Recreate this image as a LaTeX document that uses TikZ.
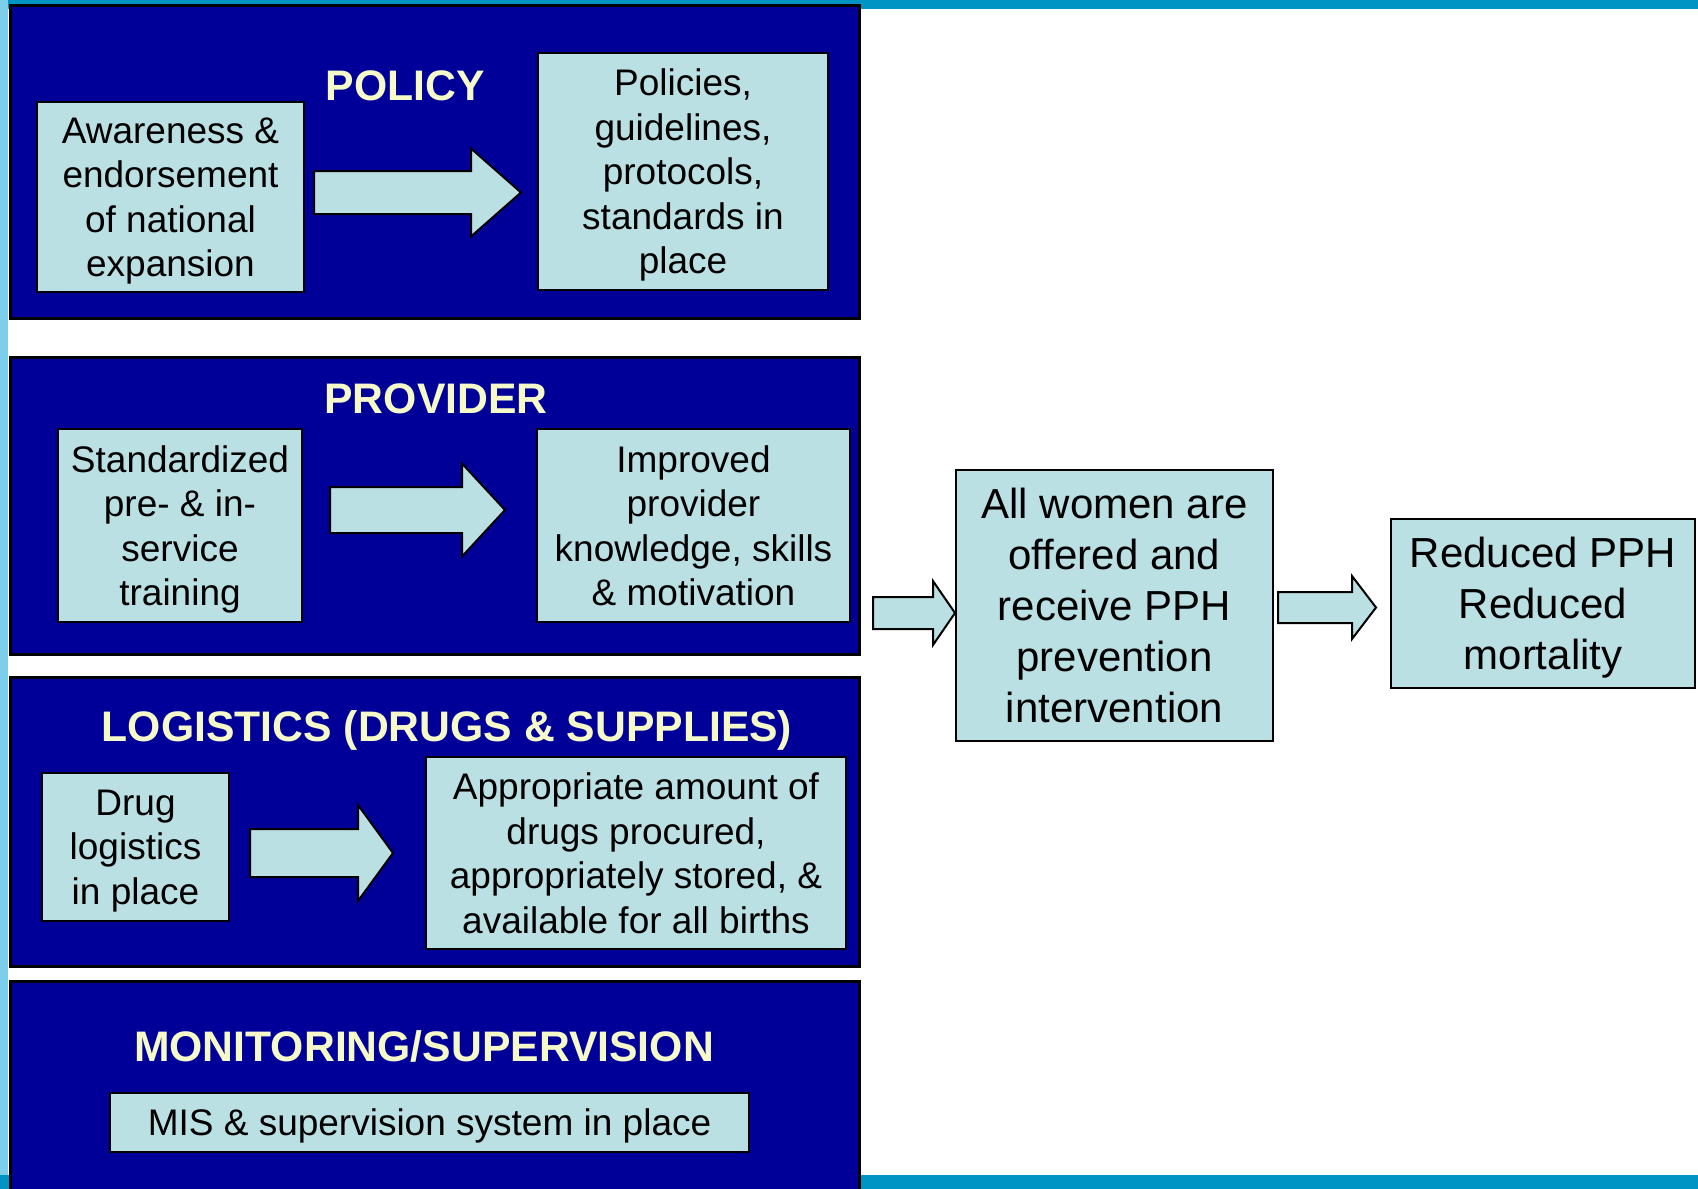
\documentclass[tikz,border=0pt]{standalone}
\usepackage{fontspec}
\setmainfont{Liberation Sans}
\definecolor{navy}{RGB}{0,0,153}
\definecolor{pale}{RGB}{187,224,227}
\definecolor{barteal}{RGB}{0,148,196}
\definecolor{stripblue}{RGB}{125,206,235}
\definecolor{ttlyellow}{RGB}{245,250,200}
\newcommand\bodyfont{\fontsize{37}{44.5}\selectfont}
\newcommand\bigbodyfont{\fontsize{42}{51}\selectfont}
\newcommand\ttlfont{\fontsize{42.7}{50}\selectfont\bfseries}
\newcommand\lastln[1]{\smash{#1}}
\newcommand\blockarrow[6]{%
  \draw[barrow] (#1,#4-#5) -- (#2,#4-#5) -- (#2,#4-#6) -- (#3,#4) -- (#2,#4+#6) -- (#2,#4+#5) -- (#1,#4+#5) -- cycle;}
\begin{document}
\begin{tikzpicture}[x=1pt,y=-1pt,
  section/.style={draw=black, line width=2.5pt, fill=navy, anchor=north west, inner sep=0pt},
  ibox/.style={draw=black, line width=2pt, fill=pale, align=center, inner sep=0pt, font=\bodyfont},
  bbox/.style={ibox, font=\bigbodyfont},
  ttl/.style={text=ttlyellow, font=\ttlfont, anchor=base, inner sep=0pt},
  barrow/.style={draw=black, line width=2pt, fill=pale, line join=miter}]
\useasboundingbox (0,0) rectangle (1698,1189);
% background decoration
\fill[barteal] (0,0) rectangle (1698,9);
\fill[stripblue] (0,0) rectangle (8,1189);
\fill[barteal] (0,1175) rectangle (1698,1189);
% sections
\node[section, minimum width=849, minimum height=313] (secpolicy) at (9,4) {};
\node[section, minimum width=849, minimum height=297] (secprovider) at (9,356) {};
\node[section, minimum width=849, minimum height=289] (seclogistics) at (9,676) {};
\node[section, minimum width=849, minimum height=215] (secmonitor) at (9,980) {};
% titles
\node[ttl] (tpolicy) at (405,100) {POLICY};
\node[ttl] (tprovider) at (436,413) {PROVIDER};
\node[ttl] (tlogistics) at (447,741) {LOGISTICS (DRUGS \& SUPPLIES)};
\node[ttl] (tmonitor) at (424,1061) {MONITORING/SUPERVISION};
% policy
\node[ibox, minimum width=267, minimum height=190] (aware) at (170.5,197) {Awareness \&\\endorsement\\of national\\\lastln{expansion}};
\node[ibox, minimum width=290, minimum height=237] (policies) at (683,171.5) {Policies,\\guidelines,\\protocols,\\standards in\\\lastln{place}};
\blockarrow{314}{471}{521}{192.5}{21.5}{44}
% provider
\node[ibox, minimum width=244, minimum height=193] (training) at (180,525.5) {Standardized\\pre- \& in-\\service\\\lastln{training}};
\node[ibox, minimum width=313, minimum height=193] (improved) at (693.5,525.5) {Improved\\provider\\knowledge, skills\\\lastln{\& motivation}};
\blockarrow{330}{462}{505}{510}{23}{46.5}
% logistics
\node[ibox, minimum width=187, minimum height=148] (drug) at (135.5,847) {Drug\\logistics\\\lastln{in place}};
\node[ibox, minimum width=420, minimum height=192] (approp) at (636,853) {Appropriate amount of\\drugs procured,\\appropriately stored, \&\\\lastln{available for all births}};
\blockarrow{250}{358}{393}{853}{24}{48}
% monitoring
\node[ibox, minimum width=639, minimum height=59, text depth=0pt] (mis) at (429.5,1122.5) {MIS \& supervision system in place};
% outcomes
\node[bbox, minimum width=317, minimum height=271] (allwomen) at (1114.5,605.5) {All women are\\offered and\\receive PPH\\prevention\\\lastln{intervention}};
\node[bbox, minimum width=304, minimum height=169] (reduced) at (1543,603.5) {Reduced PPH\\Reduced\\\lastln{mortality}};
\blockarrow{873}{933}{955}{613}{16}{32}
\blockarrow{1278}{1352}{1376}{607.5}{15.5}{31.5}
\end{tikzpicture}
\end{document}
